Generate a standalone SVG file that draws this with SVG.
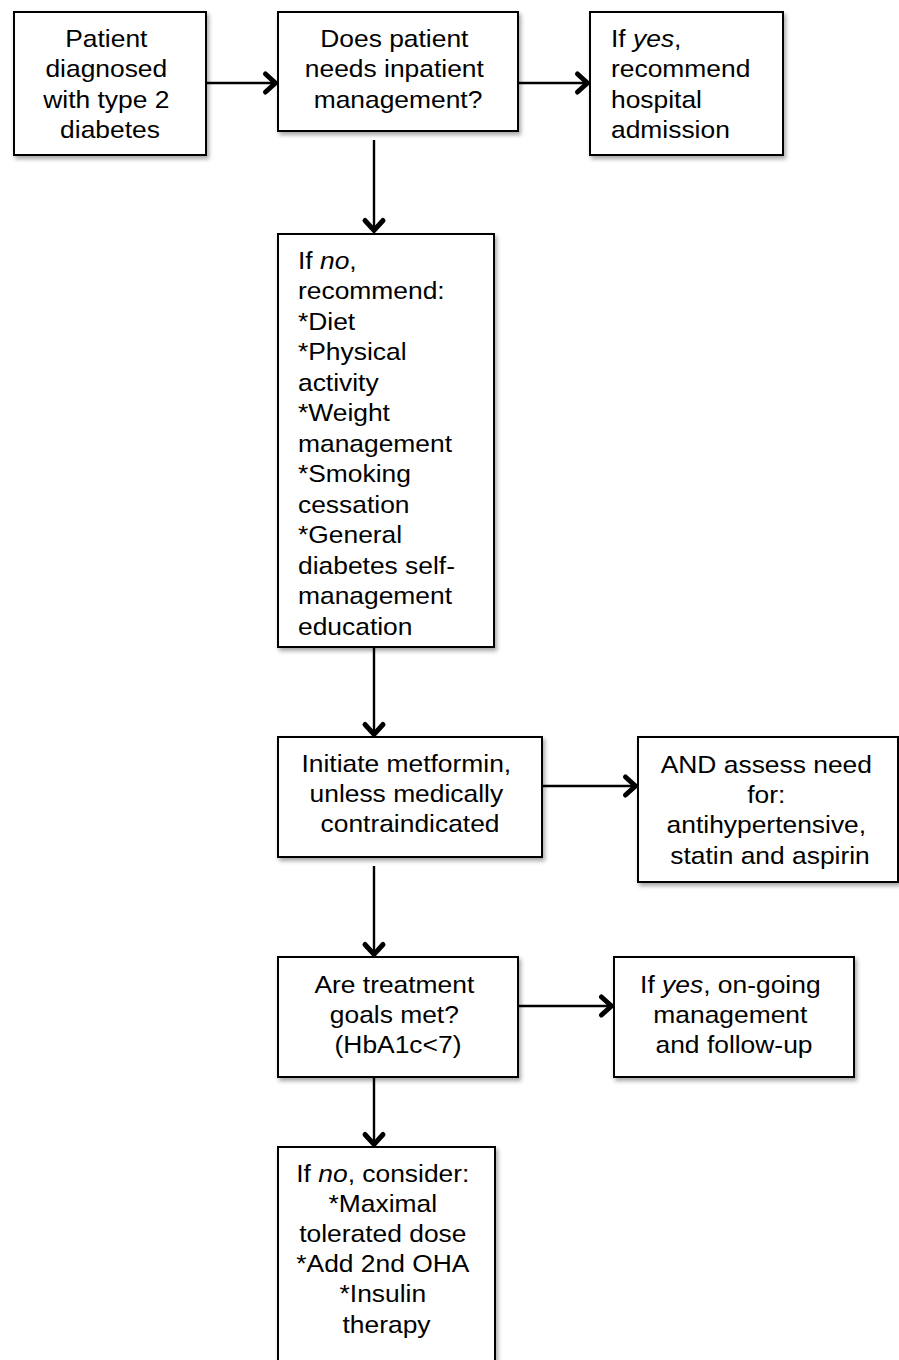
<svg xmlns="http://www.w3.org/2000/svg" xmlns:xlink="http://www.w3.org/1999/xlink" width="899" height="1360" viewBox="0 0 899 1360">
  <style>
    .box { fill: #ffffff; stroke: #000000; stroke-width: 2; filter: url(#shadow); }
    .lbl { font-family: "Liberation Sans", Arial, Helvetica, sans-serif; font-size: 24px; fill: #000000; }
    .mid { text-anchor: middle; }
    .it { font-style: italic; }
    .conn { stroke: #000000; stroke-width: 2.4; fill: none; }
    .head { fill: none; stroke: #000000; stroke-width: 5; stroke-linejoin: miter; stroke-miterlimit: 8; stroke-linecap: round; }
  </style>
  <defs>
    <filter id="shadow" x="-10%" y="-10%" width="130%" height="130%">
      <feDropShadow dx="2" dy="3" stdDeviation="2" flood-color="#000000" flood-opacity="0.35"/>
    </filter>
    <!-- open chevron arrowhead pointing along +x, tip at the origin -->
    <path id="chev" class="head" d="M -12.5 -9 L -2.6 0 L -12.5 9"/>
  </defs>

  <rect width="899" height="1360" fill="#ffffff"/>

  <!-- connectors -->
  <g id="connectors">
    <line class="conn" x1="206" y1="83" x2="276" y2="83"/>
    <use xlink:href="#chev" href="#chev" transform="translate(278 83)"/>
    <line class="conn" x1="518" y1="83" x2="588" y2="83"/>
    <use xlink:href="#chev" href="#chev" transform="translate(590 83)"/>
    <line class="conn" x1="374" y1="140" x2="374" y2="231"/>
    <use xlink:href="#chev" href="#chev" transform="translate(374 233) rotate(90)"/>
    <line class="conn" x1="374" y1="648" x2="374" y2="735"/>
    <use xlink:href="#chev" href="#chev" transform="translate(374 737) rotate(90)"/>
    <line class="conn" x1="542" y1="786" x2="636" y2="786"/>
    <use xlink:href="#chev" href="#chev" transform="translate(638 786)"/>
    <line class="conn" x1="374" y1="866" x2="374" y2="955"/>
    <use xlink:href="#chev" href="#chev" transform="translate(374 957) rotate(90)"/>
    <line class="conn" x1="518" y1="1006" x2="612" y2="1006"/>
    <use xlink:href="#chev" href="#chev" transform="translate(614 1006)"/>
    <line class="conn" x1="374" y1="1078" x2="374" y2="1145"/>
    <use xlink:href="#chev" href="#chev" transform="translate(374 1147) rotate(90)"/>
  </g>

  <!-- start node -->
  <g id="diagnosed">
    <rect class="box" x="14" y="12" width="192" height="143"/>
    <text class="lbl mid" transform="translate(110 0) scale(1.1 1)">
      <tspan x="0" y="47">Patient</tspan>
      <tspan x="0" y="77.5">diagnosed</tspan>
      <tspan x="0" y="108">with type 2</tspan>
      <tspan x="0" y="138.5">diabetes</tspan>
    </text>
  </g>

  <g id="inpatient-question">
    <rect class="box" x="278" y="12" width="240" height="119"/>
    <text class="lbl mid" transform="translate(398 0) scale(1.1 1)">
      <tspan x="0" y="47">Does patient</tspan>
      <tspan x="0" y="77.5">needs inpatient</tspan>
      <tspan x="0" y="108">management?</tspan>
    </text>
  </g>

  <g id="admission">
    <rect class="box" x="590" y="12" width="193" height="143"/>
    <text class="lbl" transform="translate(611 0) scale(1.1 1)">
      <tspan x="0" y="47">If <tspan class="it">yes</tspan>,</tspan>
      <tspan x="0" y="77.5">recommend</tspan>
      <tspan x="0" y="108">hospital</tspan>
      <tspan x="0" y="138.5">admission</tspan>
    </text>
  </g>

  <g id="lifestyle">
    <rect class="box" x="278" y="234" width="216" height="413"/>
    <text class="lbl" transform="translate(298 0) scale(1.1 1)">
      <tspan x="0" y="269">If <tspan class="it">no</tspan>,</tspan>
      <tspan x="0" y="299.5">recommend:</tspan>
      <tspan x="0" y="330">*Diet</tspan>
      <tspan x="0" y="360.5">*Physical</tspan>
      <tspan x="0" y="391">activity</tspan>
      <tspan x="0" y="421.5">*Weight</tspan>
      <tspan x="0" y="452">management</tspan>
      <tspan x="0" y="482.5">*Smoking</tspan>
      <tspan x="0" y="513">cessation</tspan>
      <tspan x="0" y="543.5">*General</tspan>
      <tspan x="0" y="574">diabetes self-</tspan>
      <tspan x="0" y="604.5">management</tspan>
      <tspan x="0" y="635">education</tspan>
    </text>
  </g>

  <g id="metformin">
    <rect class="box" x="278" y="737" width="264" height="120"/>
    <text class="lbl mid" transform="translate(410 0) scale(1.1 1)">
      <tspan x="0" y="772">Initiate metformin,</tspan>
      <tspan x="0" y="802">unless medically</tspan>
      <tspan x="0" y="832">contraindicated</tspan>
    </text>
  </g>

  <g id="assess-need">
    <rect class="box" x="638" y="737" width="260" height="145"/>
    <text class="lbl mid" transform="translate(770 0) scale(1.1 1)">
      <tspan x="0" y="773">AND assess need</tspan>
      <tspan x="0" y="803">for:</tspan>
      <tspan x="0" y="833.5">antihypertensive,</tspan>
      <tspan x="0" y="864">statin and aspirin</tspan>
    </text>
  </g>

  <g id="goals-question">
    <rect class="box" x="278" y="957" width="240" height="120"/>
    <text class="lbl mid" transform="translate(398 0) scale(1.1 1)">
      <tspan x="0" y="993">Are treatment</tspan>
      <tspan x="0" y="1023">goals met?</tspan>
      <tspan x="0" y="1053">(HbA1c&lt;7)</tspan>
    </text>
  </g>

  <g id="follow-up">
    <rect class="box" x="614" y="957" width="240" height="120"/>
    <text class="lbl mid" transform="translate(734 0) scale(1.1 1)">
      <tspan x="0" y="993">If <tspan class="it">yes</tspan>, on-going</tspan>
      <tspan x="0" y="1023">management</tspan>
      <tspan x="0" y="1053">and follow-up</tspan>
    </text>
  </g>

  <g id="escalation">
    <rect class="box" x="278" y="1147" width="217" height="218"/>
    <text class="lbl mid" transform="translate(386.5 0) scale(1.1 1)">
      <tspan x="0" y="1182">If <tspan class="it">no</tspan>, consider:</tspan>
      <tspan x="0" y="1212">*Maximal</tspan>
      <tspan x="0" y="1242">tolerated dose</tspan>
      <tspan x="0" y="1272">*Add 2nd OHA</tspan>
      <tspan x="0" y="1302.5">*Insulin</tspan>
      <tspan x="0" y="1333">therapy</tspan>
    </text>
  </g>
</svg>
